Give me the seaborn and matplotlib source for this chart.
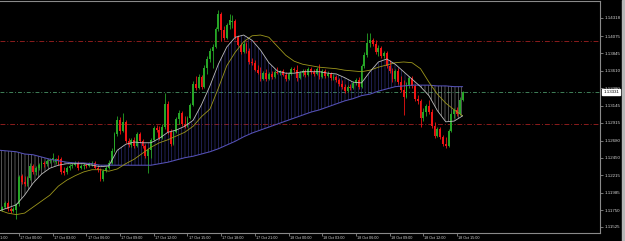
import matplotlib
matplotlib.use("Agg")
import matplotlib.pyplot as plt
from matplotlib.patches import Rectangle
import seaborn as sns
import pandas as pd
import numpy as np

# 15 minute bars, first one 16 Oct 22:15
first_bar = "2018-10-16 22:15"

bar_open = [
    1.1167, 1.1175, 1.1179, 1.1185, 1.1177, 1.1174, 1.1175, 1.1183, 1.1221, 1.1213,
    1.1210, 1.1218, 1.1234, 1.1226, 1.1231, 1.1235, 1.1238, 1.1237, 1.1241, 1.1242,
    1.1239, 1.1243, 1.1243, 1.1227, 1.1226, 1.1231, 1.1234, 1.1235, 1.1238, 1.1231,
    1.1234, 1.1235, 1.1234, 1.1237, 1.1238, 1.1231, 1.1229, 1.1217, 1.1227, 1.1231,
    1.1238, 1.1254, 1.1277, 1.1295, 1.1281, 1.1293, 1.1267, 1.1262, 1.1269, 1.1261,
    1.1277, 1.1267, 1.1261, 1.1247, 1.1255, 1.1269, 1.1285, 1.1282, 1.1271, 1.1286,
    1.1317, 1.1279, 1.1263, 1.1279, 1.1297, 1.1305, 1.1290, 1.1287, 1.1298, 1.1316,
    1.1344, 1.1338, 1.1353, 1.1340, 1.1365, 1.1377, 1.1388, 1.1393, 1.1417, 1.1437,
    1.1416, 1.1405, 1.1422, 1.1426, 1.1428, 1.1406, 1.1396, 1.1386, 1.1397, 1.1388,
    1.1373, 1.1372, 1.1362, 1.1358, 1.1350, 1.1358, 1.1350, 1.1357, 1.1353, 1.1360,
    1.1358, 1.1361, 1.1356, 1.1350, 1.1357, 1.1364, 1.1362, 1.1352, 1.1358, 1.1361,
    1.1356, 1.1364, 1.1360, 1.1357, 1.1366, 1.1353, 1.1361, 1.1354, 1.1357, 1.1352,
    1.1353, 1.1349, 1.1344, 1.1340, 1.1334, 1.1340, 1.1338, 1.1345, 1.1349, 1.1340,
    1.1368, 1.1382, 1.1398, 1.1402, 1.1397, 1.1386, 1.1392, 1.1381, 1.1385, 1.1368,
    1.1361, 1.1350, 1.1361, 1.1346, 1.1336, 1.1326, 1.1342, 1.1352, 1.1341, 1.1324,
    1.1321, 1.1298, 1.1306, 1.1314, 1.1306, 1.1287, 1.1274, 1.1283, 1.1273, 1.1263,
    1.1261, 1.1281, 1.1304, 1.1309, 1.1304, 1.1322,
]
bar_high = [
    1.1178, 1.1181, 1.1187, 1.1187, 1.1179, 1.1179, 1.1185, 1.1222, 1.1223, 1.1221,
    1.1221, 1.1238, 1.1237, 1.1234, 1.1238, 1.1241, 1.1241, 1.1243, 1.1245, 1.1251,
    1.1245, 1.1249, 1.1246, 1.1233, 1.1234, 1.1237, 1.1238, 1.1241, 1.1241, 1.1237,
    1.1238, 1.1238, 1.1239, 1.1241, 1.1241, 1.1234, 1.1231, 1.1230, 1.1234, 1.1242,
    1.1258, 1.1279, 1.1301, 1.1300, 1.1305, 1.1295, 1.1271, 1.1271, 1.1273, 1.1279,
    1.1279, 1.1270, 1.1263, 1.1258, 1.1271, 1.1287, 1.1289, 1.1287, 1.1290, 1.1332,
    1.1321, 1.1283, 1.1282, 1.1300, 1.1309, 1.1308, 1.1301, 1.1301, 1.1318, 1.1348,
    1.1354, 1.1357, 1.1356, 1.1369, 1.1381, 1.1392, 1.1397, 1.1420, 1.1442, 1.1440,
    1.1421, 1.1425, 1.1437, 1.1436, 1.1430, 1.1409, 1.1398, 1.1401, 1.1400, 1.1392,
    1.1378, 1.1376, 1.1369, 1.1366, 1.1361, 1.1364, 1.1360, 1.1361, 1.1362, 1.1366,
    1.1362, 1.1364, 1.1360, 1.1360, 1.1366, 1.1366, 1.1369, 1.1361, 1.1364, 1.1364,
    1.1366, 1.1366, 1.1364, 1.1366, 1.1370, 1.1364, 1.1364, 1.1361, 1.1360, 1.1357,
    1.1356, 1.1352, 1.1349, 1.1344, 1.1342, 1.1344, 1.1348, 1.1352, 1.1353, 1.1370,
    1.1386, 1.1412, 1.1412, 1.1405, 1.1402, 1.1396, 1.1394, 1.1388, 1.1388, 1.1376,
    1.1365, 1.1364, 1.1365, 1.1354, 1.1349, 1.1346, 1.1354, 1.1354, 1.1344, 1.1329,
    1.1324, 1.1312, 1.1317, 1.1322, 1.1310, 1.1293, 1.1286, 1.1286, 1.1275, 1.1273,
    1.1283, 1.1306, 1.1312, 1.1313, 1.1326, 1.1334,
]
bar_low = [
    1.1165, 1.1174, 1.1178, 1.1174, 1.1171, 1.1173, 1.1163, 1.1181, 1.1210, 1.1207,
    1.1207, 1.1215, 1.1223, 1.1222, 1.1229, 1.1231, 1.1233, 1.1234, 1.1238, 1.1239,
    1.1237, 1.1235, 1.1223, 1.1222, 1.1223, 1.1229, 1.1231, 1.1234, 1.1229, 1.1230,
    1.1230, 1.1231, 1.1233, 1.1234, 1.1230, 1.1226, 1.1214, 1.1214, 1.1226, 1.1230,
    1.1237, 1.1253, 1.1274, 1.1277, 1.1279, 1.1265, 1.1259, 1.1259, 1.1258, 1.1259,
    1.1265, 1.1258, 1.1245, 1.1225, 1.1245, 1.1267, 1.1279, 1.1269, 1.1270, 1.1283,
    1.1277, 1.1261, 1.1262, 1.1278, 1.1290, 1.1287, 1.1285, 1.1286, 1.1297, 1.1314,
    1.1336, 1.1337, 1.1337, 1.1338, 1.1357, 1.1373, 1.1365, 1.1392, 1.1414, 1.1401,
    1.1402, 1.1404, 1.1417, 1.1418, 1.1404, 1.1394, 1.1384, 1.1385, 1.1385, 1.1370,
    1.1369, 1.1361, 1.1357, 1.1348, 1.1349, 1.1348, 1.1349, 1.1350, 1.1352, 1.1357,
    1.1356, 1.1354, 1.1348, 1.1349, 1.1356, 1.1360, 1.1348, 1.1350, 1.1354, 1.1353,
    1.1354, 1.1357, 1.1354, 1.1356, 1.1350, 1.1352, 1.1352, 1.1353, 1.1349, 1.1349,
    1.1346, 1.1341, 1.1337, 1.1332, 1.1333, 1.1336, 1.1337, 1.1342, 1.1337, 1.1338,
    1.1365, 1.1380, 1.1393, 1.1394, 1.1384, 1.1381, 1.1378, 1.1378, 1.1365, 1.1358,
    1.1346, 1.1348, 1.1344, 1.1333, 1.1302, 1.1325, 1.1338, 1.1338, 1.1321, 1.1317,
    1.1286, 1.1294, 1.1301, 1.1304, 1.1285, 1.1271, 1.1273, 1.1270, 1.1261, 1.1258,
    1.1259, 1.1279, 1.1298, 1.1301, 1.1302, 1.1321,
]
bar_close = [
    1.1175, 1.1179, 1.1185, 1.1177, 1.1174, 1.1177, 1.1183, 1.1219, 1.1213, 1.1210,
    1.1218, 1.1234, 1.1226, 1.1231, 1.1235, 1.1238, 1.1237, 1.1241, 1.1242, 1.1245,
    1.1243, 1.1242, 1.1226, 1.1225, 1.1231, 1.1234, 1.1235, 1.1238, 1.1231, 1.1234,
    1.1235, 1.1234, 1.1237, 1.1238, 1.1231, 1.1229, 1.1217, 1.1227, 1.1231, 1.1238,
    1.1254, 1.1277, 1.1295, 1.1281, 1.1293, 1.1267, 1.1262, 1.1269, 1.1261, 1.1277,
    1.1267, 1.1261, 1.1247, 1.1255, 1.1269, 1.1285, 1.1282, 1.1271, 1.1286, 1.1317,
    1.1279, 1.1263, 1.1279, 1.1297, 1.1305, 1.1290, 1.1287, 1.1298, 1.1316, 1.1344,
    1.1338, 1.1353, 1.1340, 1.1365, 1.1377, 1.1388, 1.1393, 1.1417, 1.1437, 1.1416,
    1.1405, 1.1422, 1.1429, 1.1428, 1.1406, 1.1396, 1.1386, 1.1397, 1.1388, 1.1373,
    1.1372, 1.1362, 1.1358, 1.1350, 1.1358, 1.1350, 1.1357, 1.1353, 1.1360, 1.1358,
    1.1361, 1.1356, 1.1350, 1.1357, 1.1364, 1.1362, 1.1352, 1.1358, 1.1361, 1.1356,
    1.1364, 1.1360, 1.1357, 1.1364, 1.1353, 1.1361, 1.1354, 1.1357, 1.1352, 1.1353,
    1.1349, 1.1344, 1.1340, 1.1334, 1.1340, 1.1338, 1.1345, 1.1349, 1.1340, 1.1368,
    1.1382, 1.1398, 1.1402, 1.1397, 1.1386, 1.1392, 1.1381, 1.1385, 1.1368, 1.1361,
    1.1350, 1.1361, 1.1346, 1.1336, 1.1326, 1.1342, 1.1352, 1.1341, 1.1324, 1.1321,
    1.1298, 1.1306, 1.1314, 1.1306, 1.1287, 1.1274, 1.1283, 1.1273, 1.1263, 1.1261,
    1.1281, 1.1304, 1.1309, 1.1304, 1.1322, 1.1333,
]

# moving averages, read every third bar
ma_bars = list(range(0, 166, 3))
ma_fast = [
    1.1174, 1.1178, 1.1182, 1.1195, 1.1211, 1.1223, 1.1231, 1.1235, 1.1237, 1.1237,
    1.1237, 1.1235, 1.1233, 1.1234, 1.1255, 1.1263, 1.1266, 1.1265, 1.1265, 1.1271,
    1.1279, 1.1282, 1.1287, 1.1295, 1.1316, 1.1341, 1.1370, 1.1393, 1.1406, 1.1409,
    1.1402, 1.1389, 1.1372, 1.1361, 1.1358, 1.1358, 1.1360, 1.1360, 1.1360, 1.1358,
    1.1357, 1.1352, 1.1346, 1.1345, 1.1360, 1.1373, 1.1377, 1.1370, 1.1360, 1.1350,
    1.1340, 1.1328, 1.1308, 1.1293, 1.1294, 1.1301,
]
ma_mid = [
    1.1175, 1.1171, 1.1169, 1.1171, 1.1179, 1.1187, 1.1195, 1.1207, 1.1215, 1.1221,
    1.1226, 1.1229, 1.1229, 1.1227, 1.1230, 1.1237, 1.1243, 1.1251, 1.1259, 1.1265,
    1.1269, 1.1274, 1.1279, 1.1287, 1.1300, 1.1310, 1.1338, 1.1368, 1.1386, 1.1400,
    1.1408, 1.1409, 1.1406, 1.1394, 1.1382, 1.1374, 1.1370, 1.1368, 1.1366, 1.1365,
    1.1364, 1.1362, 1.1361, 1.1360, 1.1362, 1.1366, 1.1369, 1.1372, 1.1373, 1.1372,
    1.1364, 1.1346, 1.1330, 1.1318, 1.1309, 1.1301,
]
ma_slow = [
    1.1255, 1.1254, 1.1253, 1.1250, 1.1249, 1.1246, 1.1243, 1.1241, 1.1239, 1.1238,
    1.1238, 1.1237, 1.1235, 1.1235, 1.1235, 1.1235, 1.1235, 1.1235, 1.1235, 1.1237,
    1.1239, 1.1242, 1.1245, 1.1247, 1.1250, 1.1253, 1.1257, 1.1262, 1.1267, 1.1273,
    1.1278, 1.1282, 1.1286, 1.1290, 1.1294, 1.1298, 1.1302, 1.1306, 1.1309, 1.1313,
    1.1317, 1.1321, 1.1324, 1.1328, 1.1330, 1.1334, 1.1337, 1.1340, 1.1341, 1.1342,
    1.1342, 1.1342, 1.1341, 1.1341, 1.1340, 1.1340,
]

price_ticks = [1.14318, 1.14075, 1.13845, 1.13610, 1.13380, 1.13145, 1.12915,
               1.12680, 1.12450, 1.12215, 1.11985, 1.11750, 1.11525]
time_labels = ["16 Oct 21:00", "17 Oct 00:00", "17 Oct 03:00", "17 Oct 06:00",
               "17 Oct 09:00", "17 Oct 12:00", "17 Oct 15:00", "17 Oct 18:00",
               "17 Oct 21:00", "18 Oct 00:00", "18 Oct 03:00", "18 Oct 06:00",
               "18 Oct 09:00", "18 Oct 12:00", "18 Oct 15:00"]
level_lines = [1.14010, 1.12900]
last_price = 1.13331

#////////////////////////////////////////////////////////////////////

sns.set_theme(style="dark", rc={"axes.facecolor": "black", "figure.facecolor": "black"})
plt.rcParams["font.family"] = ["Liberation Sans", "DejaVu Sans"]
plt.rcParams["hatch.linewidth"] = 0.4

GREEN = "#26a626"
RED = "#f01414"
FRAME = "#8a8a8a"
TEXT = "#d4d4d4"

df = pd.DataFrame({"open": bar_open, "high": bar_high, "low": bar_low, "close": bar_close})
df["bar"] = np.arange(len(df))
t0 = pd.Timestamp(first_bar)

ma = pd.DataFrame({"bar": ma_bars, "fast": ma_fast, "mid": ma_mid, "slow": ma_slow})

fig = plt.figure(figsize=(6.25, 2.41), dpi=100)
ax = fig.add_axes([0, 8 / 241, 600 / 625, 232 / 241])
ax.set_facecolor("black")

# hatched band between fast and slow average
above = ma["fast"] >= ma["slow"]
ax.fill_between(ma["bar"], ma["slow"], ma["fast"], where=above, interpolate=True,
                facecolor="none", edgecolor="#36368e", hatch="|||||", linewidth=0, zorder=1)
ax.fill_between(ma["bar"], ma["slow"], ma["fast"], where=~above, interpolate=True,
                facecolor="none", edgecolor="#909090", hatch="|||||", linewidth=0, zorder=1)

# horizontal levels
for lvl in level_lines:
    ax.axhline(lvl, color="#8c1c1c", lw=0.7, ls=(0, (5, 2, 1, 2)), zorder=0.5)
ax.axhline(last_price, color="#3f7f58", lw=0.7, ls=(0, (4, 2, 1, 2)), zorder=0.5)

# candles
up = df["close"] >= df["open"]
colors = np.where(up, GREEN, RED)
ax.vlines(df["bar"], df["low"], df["high"], colors=colors, lw=0.6, zorder=2)
body = (df["close"] - df["open"]).abs().clip(lower=0.00005)
ax.bar(df["bar"], body, bottom=df[["open", "close"]].min(axis=1), width=0.66,
       color=colors, linewidth=0, zorder=2)

# moving averages
sns.lineplot(x=ma["bar"], y=ma["slow"], color="#5652b8", lw=0.75, ax=ax, zorder=3)
sns.lineplot(x=ma["bar"], y=ma["mid"], color="#9c961c", lw=0.6, ax=ax, zorder=3)
sns.lineplot(x=ma["bar"], y=ma["fast"], color="#bdbdbd", lw=0.6, ax=ax, zorder=3)

ax.set_xlim(0.23, 213.93)
ax.set_ylim(1.11444, 1.14545)
ax.grid(False)
ax.set_xlabel("")
ax.set_ylabel("")

# time axis
label_pos = [(pd.to_datetime("2018 " + s, format="%Y %d %b %H:%M") - t0) / pd.Timedelta("15min")
             for s in time_labels]
ax.set_xticks([p for p in label_pos if p > 0.23])
ax.tick_params(axis="x", bottom=True, labelbottom=False, length=2.5, width=0.6,
               color=FRAME, direction="out")
for p, s in zip(label_pos, time_labels):
    ax.annotate(s, xy=(p, 0), xycoords=("data", "axes fraction"), xytext=(0.8, -2.0),
                textcoords="offset points", ha="left", va="top", fontsize=2.7,
                color=TEXT, annotation_clip=False)

# price axis
ax.yaxis.tick_right()
ax.set_yticks(price_ticks)
ax.set_yticklabels([f"{v:.5f}" for v in price_ticks])
ax.tick_params(axis="y", right=True, left=False, labelright=True, labelleft=False,
               length=2, width=0.6, pad=1, color=FRAME, labelsize=3.2, labelcolor=TEXT)

ax.annotate(f"{last_price:.5f}", xy=(1, last_price), xycoords=("axes fraction", "data"),
            xytext=(2.3, 0), textcoords="offset points", ha="left", va="center",
            fontsize=3.2, color="black", zorder=10, annotation_clip=False,
            bbox=dict(boxstyle="square,pad=0.2", fc="white", ec="white"))

for side in ["top", "right", "bottom"]:
    ax.spines[side].set_color(FRAME)
    ax.spines[side].set_linewidth(0.8)
ax.spines["left"].set_visible(False)

fig.patches.append(Rectangle((622 / 625, 0), 3 / 625, 1, transform=fig.transFigure,
                             color="#b8b8b8", zorder=0))

fig.savefig("out.png", dpi=100, facecolor="black")
